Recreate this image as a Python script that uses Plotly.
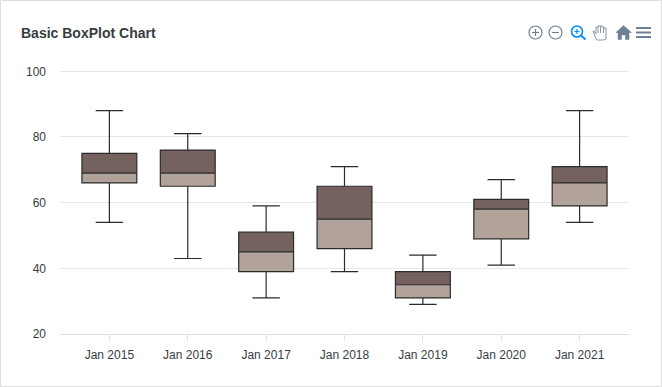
import plotly.graph_objects as go

categories = ["Jan 2015", "Jan 2016", "Jan 2017", "Jan 2018", "Jan 2019", "Jan 2020", "Jan 2021"]
low = [54, 43, 31, 39, 29, 41, 54]
q1 = [66, 65, 39, 46, 31, 49, 59]
median = [69, 69, 45, 55, 35, 58, 66]
q3 = [75, 76, 51, 65, 39, 61, 71]
high = [88, 81, 59, 71, 44, 67, 88]

W, H = 662, 387
ML, MR, MT, MB = 60, 33, 70, 53
PW, PH = W - ML - MR, H - MT - MB


def px(x):
    return (x - ML) / PW


def py(y):
    return 1 - (y - MT) / PH


def circle(cx, cy, r, color, width=1.2):
    return dict(type="circle", xref="paper", yref="paper", x0=px(cx - r), x1=px(cx + r),
                y0=py(cy + r), y1=py(cy - r), line=dict(color=color, width=width), layer="above")


def seg(x0, y0, x1, y1, color, width=1.2):
    return dict(type="line", xref="paper", yref="paper", x0=px(x0), x1=px(x1),
                y0=py(y0), y1=py(y1), line=dict(color=color, width=width), layer="above")


def poly(points, color, fill=None, width=1.0):
    path = "M " + " L ".join(f"{px(a):.5f},{py(b):.5f}" for a, b in points) + " Z"
    return dict(type="path", xref="paper", yref="paper", path=path,
                fillcolor=fill or "rgba(0,0,0,0)", line=dict(color=color, width=width), layer="above")


ICON = "#6e8192"
BLUE = "#008ffb"
shapes = [
    dict(type="rect", xref="paper", yref="paper", x0=px(0.5), x1=px(W - 0.5), y0=py(H - 0.5), y1=py(0.5),
         line=dict(color="#dedede", width=1), layer="below"),
    # zoom in
    circle(535.5, 32.5, 6.5, ICON), seg(532, 32.5, 539, 32.5, ICON), seg(535.5, 29, 535.5, 36, ICON),
    # zoom out
    circle(555.5, 32.5, 6.5, ICON), seg(552, 32.5, 559, 32.5, ICON),
    # active zoom
    circle(577, 31.5, 5.5, BLUE, 1.6), seg(581, 35.5, 585.5, 39.5, BLUE, 2),
    seg(574.5, 31.5, 579.5, 31.5, BLUE), seg(577, 29, 577, 34, BLUE),
    # pan hand
    poly([(596, 39), (594, 34), (593, 31), (595, 32), (596, 34), (596, 27), (598, 27), (598, 26), (600, 26),
          (602, 26), (602, 27), (604, 27), (604, 28), (606, 28), (606, 39), (604, 40), (597, 40)],
         "#8a98a5", "#ffffff"),
    seg(598, 27, 598, 33, "#8a98a5", 1), seg(600.5, 26, 600.5, 33, "#8a98a5", 1), seg(603.5, 27, 603.5, 33, "#8a98a5", 1),
    # home
    poly([(616, 32.5), (623.5, 25.5), (631.5, 32.5), (629, 32.5), (629, 39.5), (625.5, 39.5), (625.5, 35),
          (621.5, 35), (621.5, 39.5), (618, 39.5), (618, 32.5)], ICON, ICON, 0.5),
    # menu
    seg(636, 28, 651, 28, ICON, 2), seg(636, 32.5, 651, 32.5, ICON, 2), seg(636, 37, 651, 37, ICON, 2),
]

fig = go.Figure()
fig.add_trace(go.Bar(x=categories, y=[b - a for a, b in zip(q1, median)], base=q1, width=0.7,
                     marker=dict(color="#b1a399", line=dict(width=0)), hoverinfo="skip"))
fig.add_trace(go.Bar(x=categories, y=[b - a for a, b in zip(median, q3)], base=median, width=0.7,
                     marker=dict(color="#75625e", line=dict(width=0)), hoverinfo="skip"))
fig.add_trace(go.Box(x=categories, lowerfence=low, q1=q1, median=median, q3=q3, upperfence=high,
                     width=0.7, whiskerwidth=0.5, fillcolor="rgba(0,0,0,0)", boxpoints=False,
                     line=dict(color="#2b2b2b", width=1.2)))

fig.update_layout(
    width=W, height=H,
    margin=dict(l=ML, r=MR, t=MT, b=MB, pad=0),
    paper_bgcolor="white", plot_bgcolor="white",
    showlegend=False,
    barmode="overlay",
    font=dict(family="Liberation Sans, Arial, sans-serif", size=12, color="#373d3f"),
    title=dict(text="<b>Basic BoxPlot Chart</b>", x=21 / W, xanchor="left", y=1 - 33 / H, yanchor="middle",
               font=dict(size=14, color="#373d3f")),
    xaxis=dict(type="category", categoryorder="array", categoryarray=categories, range=[-0.63, 6.63],
               showgrid=False, showline=True, linecolor="#e0e0e0", linewidth=1,
               ticks="outside", ticklen=6, tickcolor="#e0e0e0", tickfont=dict(size=12), ticklabelstandoff=4,
               zeroline=False),
    yaxis=dict(range=[20, 100.4], tickvals=[20, 40, 60, 80, 100], showgrid=True, gridcolor="#e8e8e8", gridwidth=1,
               showline=False, zeroline=False, ticks="", tickfont=dict(size=12), ticklabelstandoff=13),
    shapes=shapes,
)
fig.write_html("out.html", config=dict(displayModeBar=False),
               post_script="document.body.style.margin='0';")
